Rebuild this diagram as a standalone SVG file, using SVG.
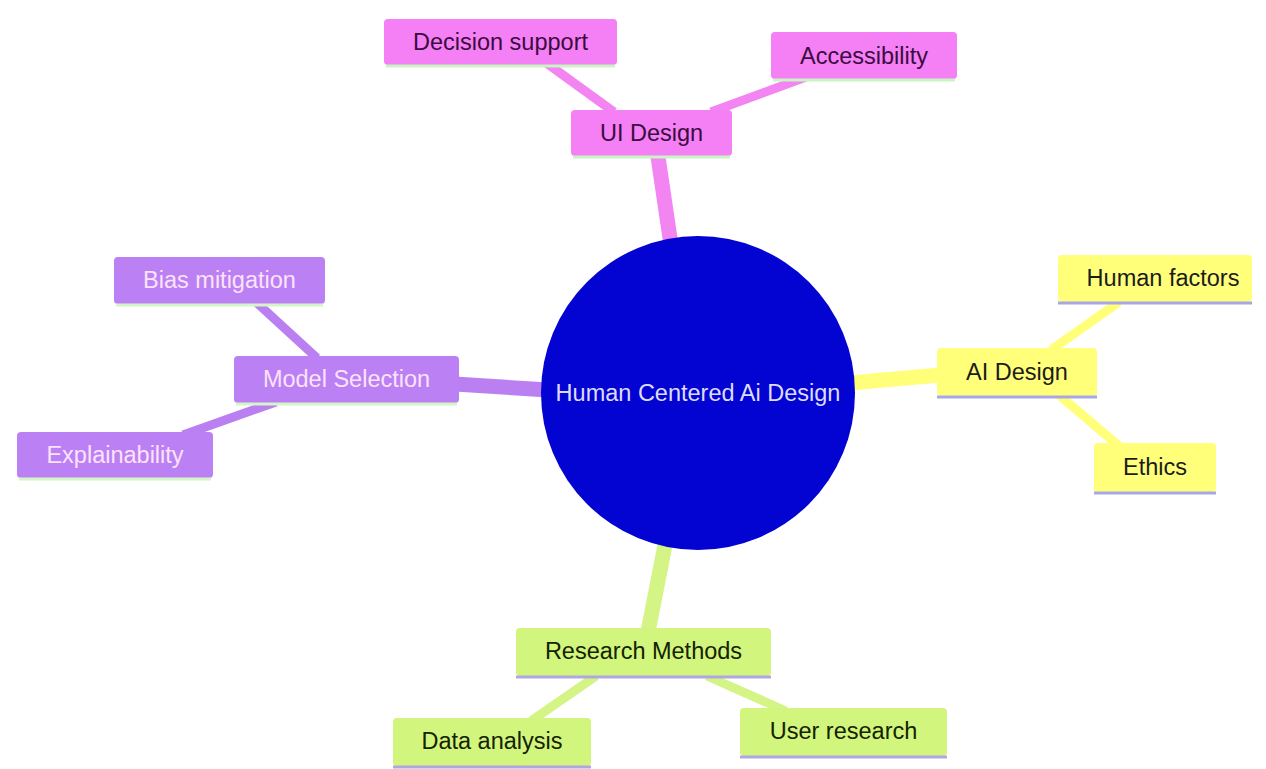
<svg xmlns="http://www.w3.org/2000/svg" width="1266" height="769" viewBox="0 0 1266 769">
<style>
text{font-family:"Liberation Sans",Arial,sans-serif;font-size:23.5px;text-anchor:middle}
.pk rect.b{fill:#f57ff4}.pk .l{stroke:#c9f5c2}.pk text{fill:#3a0c40}
.yl rect.b{fill:#ffff7a}.yl .l{stroke:#a9a6e6}.yl text{fill:#1c1c1c}
.pu rect.b{fill:#bb80f4}.pu .l{stroke:#d3f5c8}.pu text{fill:#fbe3fb}
.gr rect.b{fill:#d2f57e}.gr .l{stroke:#b0a6e2}.gr text{fill:#142300}
.l{stroke-width:3;fill:none}
#connectors line{stroke-linecap:butt}
.cpk{stroke:#f285f2}.cyl{stroke:#ffff7a}.cpu{stroke:#ba80f2}.cgr{stroke:#d4f585}
.thick{stroke-width:15}.thin{stroke-width:9}
</style>
<rect width="1266" height="769" fill="#ffffff"/>
<g id="connectors">
<line class="cpk thick" x1="657" y1="150" x2="671" y2="245"/>
<line class="cpk thin" x1="545" y1="62" x2="614" y2="112"/>
<line class="cpk thin" x1="806" y1="77" x2="711" y2="112"/>
<line class="cpu thick" x1="455" y1="384" x2="548" y2="390"/>
<line class="cpu thin" x1="256" y1="302" x2="317" y2="358"/>
<line class="cpu thin" x1="183" y1="435" x2="276" y2="402"/>
<line class="cyl thick" x1="850" y1="383" x2="940" y2="375"/>
<line class="cyl thin" x1="1119" y1="302" x2="1051" y2="350"/>
<line class="cyl thin" x1="1059" y1="395" x2="1119" y2="446"/>
<line class="cgr thick" x1="666" y1="540" x2="648" y2="632"/>
<line class="cgr thin" x1="596" y1="676" x2="531" y2="721"/>
<line class="cgr thin" x1="707" y1="676" x2="786" y2="711"/>
</g>
<g id="root">
<circle cx="698" cy="393" r="157" fill="#0303d2"/>
<text x="698" y="401" fill="#dcdcff">Human Centered Ai Design</text>
</g>
<g id="ui-design" class="pk">
<rect class="b" x="571" y="110" width="161" height="46" rx="4"/>
<line class="l" x1="573" y1="157" x2="730" y2="157"/>
<text x="651.5" y="141">UI Design</text>
</g>
<g id="decision-support" class="pk">
<rect class="b" x="384" y="19" width="233" height="46" rx="4"/>
<line class="l" x1="386" y1="66" x2="615" y2="66"/>
<text x="500.5" y="50">Decision support</text>
</g>
<g id="accessibility" class="pk">
<rect class="b" x="771" y="32" width="186" height="47" rx="4"/>
<line class="l" x1="773" y1="80" x2="955" y2="80"/>
<text x="864" y="64">Accessibility</text>
</g>
<g id="model-selection" class="pu">
<rect class="b" x="234" y="356" width="225" height="47" rx="4"/>
<line class="l" x1="236" y1="404" x2="457" y2="404"/>
<text x="346.5" y="387">Model Selection</text>
</g>
<g id="bias-mitigation" class="pu">
<rect class="b" x="114" y="257" width="211" height="47" rx="4"/>
<line class="l" x1="116" y1="305" x2="323" y2="305"/>
<text x="219.5" y="288">Bias mitigation</text>
</g>
<g id="explainability" class="pu">
<rect class="b" x="17" y="432" width="196" height="46" rx="4"/>
<line class="l" x1="19" y1="479" x2="211" y2="479"/>
<text x="115" y="463">Explainability</text>
</g>
<g id="ai-design" class="yl">
<rect class="b" x="937" y="348" width="160" height="48" rx="4"/>
<line class="l" x1="937" y1="397" x2="1097" y2="397"/>
<text x="1017" y="380">AI Design</text>
</g>
<g id="human-factors" class="yl">
<rect class="b" x="1058" y="255" width="194" height="47" rx="4"/>
<line class="l" x1="1058" y1="303" x2="1252" y2="303"/>
<text x="1163" y="286">Human factors</text>
</g>
<g id="ethics" class="yl">
<rect class="b" x="1094" y="443" width="122" height="49" rx="4"/>
<line class="l" x1="1094" y1="493" x2="1216" y2="493"/>
<text x="1155" y="475">Ethics</text>
</g>
<g id="research-methods" class="gr">
<rect class="b" x="516" y="628" width="255" height="48" rx="4"/>
<line class="l" x1="516" y1="677" x2="771" y2="677"/>
<text x="643.5" y="659">Research Methods</text>
</g>
<g id="data-analysis" class="gr">
<rect class="b" x="393" y="718" width="198" height="48" rx="4"/>
<line class="l" x1="393" y1="767" x2="591" y2="767"/>
<text x="492" y="749">Data analysis</text>
</g>
<g id="user-research" class="gr">
<rect class="b" x="740" y="708" width="207" height="48" rx="4"/>
<line class="l" x1="740" y1="757" x2="947" y2="757"/>
<text x="843.5" y="739">User research</text>
</g>
</svg>
